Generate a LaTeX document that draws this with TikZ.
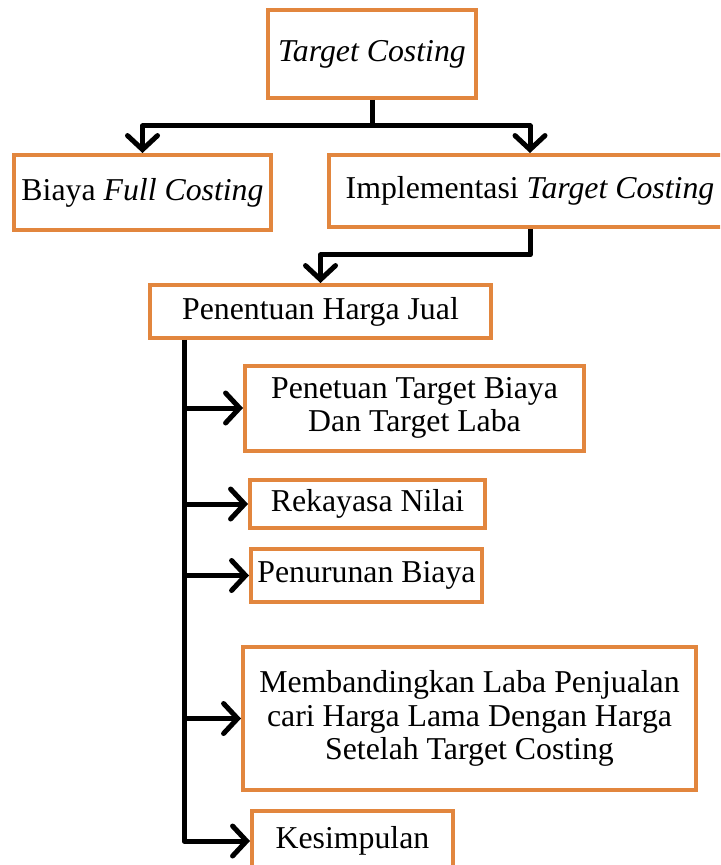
\documentclass[tikz,border=0pt]{standalone}
\usepackage{fontspec}
\setmainfont{Liberation Serif}
\usetikzlibrary{positioning}
\usetikzlibrary{arrows.meta}
\definecolor{boxorange}{RGB}{226,134,62}
\tikzset{
  kotak/.style={draw=boxorange,line width=2pt,fill=white,align=center,inner sep=0pt,
    font=\fontsize{15.9}{16.8}\selectfont},
  panah/.style={line width=2.5pt,-{Straight Barb[length=7pt,width=15pt,line cap=round]},line join=round},
  garis/.style={line width=2.5pt,line join=round}
}
\begin{document}
\begin{tikzpicture}[x=0.5pt,y=-0.5pt]
 \useasboundingbox (0,0) rectangle (720,865);
 \clip (0,0) rectangle (720,865);
 \node[kotak,minimum width=104pt,minimum height=44pt] (tc) at (372,54) {\textit{Target Costing}};
 \node[kotak,minimum width=128.5pt,minimum height=37.5pt] (bfc) at (142.5,192.5) {Biaya \textit{Full Costing}};
 \node[kotak,minimum width=201pt,minimum height=36pt] (itc) at (530,191) {Implementasi \textit{Target Costing}};
 \node[kotak,minimum width=170.5pt,minimum height=26.5pt] (phj) at (320.5,311.5) {Penentuan Harga Jual};
 \node[kotak,minimum width=169.5pt,minimum height=42.5pt] (ptb) at (414.5,408) {Penetuan Target Biaya\\Dan Target Laba};
 \node[kotak,minimum width=117.5pt,minimum height=24pt] (rn) at (367.5,504) {Rekayasa Nilai};
 \node[kotak,minimum width=115.5pt,minimum height=26.5pt] (pb) at (366.5,575.5) {Penurunan Biaya};
 \node[kotak,minimum width=226.5pt,minimum height=71.5pt] (mlp) at (469.5,718.5) {Membandingkan Laba Penjualan\\cari Harga Lama Dengan Harga\\Setelah Target Costing};
 \node[kotak,minimum width=100.5pt,minimum height=30pt] (ksm) at (352.5,841) {Kesimpulan};
 \coordinate (j1) at (372,126);
 \coordinate (j2) at (530,255);
 \coordinate (trunk) at (184,340);
 \draw[garis] (tc.south) -- (j1);
 \draw[panah] (j1) -| (bfc.north);
 \draw[panah] (j1) -| (itc.north);
 \draw[panah] (itc.south) -- (j2) -| (phj.north);
 \draw[panah] (trunk) |- (ksm.west);
 \draw[panah] (trunk |- ptb.west) -- (ptb.west);
 \draw[panah] (trunk |- rn.west) -- (rn.west);
 \draw[panah] (trunk |- pb.west) -- (pb.west);
 \draw[panah] (trunk |- mlp.west) -- (mlp.west);
\end{tikzpicture}
\end{document}
